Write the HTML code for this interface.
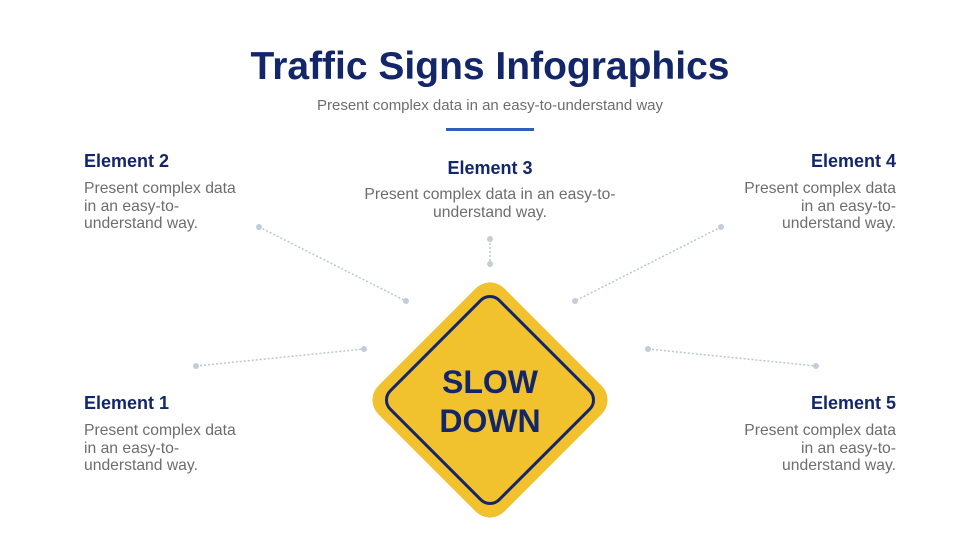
<!DOCTYPE html>
<html><head><style>
body{margin:0;width:980px;height:551px;background:#fff;position:relative;overflow:hidden;font-family:"Liberation Sans",sans-serif}
.t{position:absolute;white-space:nowrap}
h1{position:absolute;left:0;width:980px;text-align:center;top:45px;margin:0;font-size:39px;color:#13266a;font-weight:bold}
.h{font-weight:bold;font-size:18px;color:#13266a}
.p{font-size:15.7px;color:#6d6d6d;line-height:17.5px}
</style></head><body>
<h1>Traffic Signs Infographics</h1>
<div class="t" style="left:0;width:980px;text-align:center;top:97px;font-size:15px;color:#6d6d6d">Present complex data in an easy-to-understand way</div>
<div style="position:absolute;left:446px;top:128px;width:88px;height:3px;background:#2f5fb8"></div>
<svg width="980" height="551" style="position:absolute;left:0;top:0">
<g stroke="#b9c6d3" stroke-width="1.5" stroke-dasharray="2 2" fill="none">
<line x1="259" y1="227" x2="406" y2="301"/><line x1="196" y1="366" x2="364" y2="349"/>
<line x1="490" y1="239" x2="490" y2="264"/><line x1="721" y1="227" x2="575" y2="301"/>
<line x1="648" y1="349" x2="816" y2="366"/></g>
<g fill="#c2cdd8">
<circle cx="259" cy="227" r="3"/><circle cx="406" cy="301" r="3"/><circle cx="196" cy="366" r="3"/><circle cx="364" cy="349" r="3"/>
<circle cx="490" cy="239" r="3"/><circle cx="490" cy="264" r="3"/><circle cx="721" cy="227" r="3"/><circle cx="575" cy="301" r="3"/>
<circle cx="648" cy="349" r="3"/><circle cx="816" cy="366" r="3"/></g>
<g transform="translate(490,400) rotate(45)">
<rect x="-89" y="-89" width="178" height="178" rx="20" fill="#f2c12e"/>
<rect x="-77" y="-77" width="154" height="154" rx="13" fill="none" stroke="#13266a" stroke-width="3"/>
</g>
<text x="490" y="393" text-anchor="middle" font-family="Liberation Sans" font-weight="bold" font-size="32" fill="#13266a">SLOW</text>
<text x="490" y="432" text-anchor="middle" font-family="Liberation Sans" font-weight="bold" font-size="32" fill="#13266a">DOWN</text>
</svg>
<div class="t h" style="left:84px;top:151px">Element 2</div>
<div class="t p" style="left:84px;top:180px">Present complex data<br>in an easy-to-<br>understand way.</div>
<div class="t h" style="left:84px;top:393px">Element 1</div>
<div class="t p" style="left:84px;top:422px">Present complex data<br>in an easy-to-<br>understand way.</div>
<div class="t h" style="left:0;width:980px;text-align:center;top:158px">Element 3</div>
<div class="t p" style="left:0;width:980px;text-align:center;top:186px">Present complex data in an easy-to-<br>understand way.</div>
<div class="t h" style="right:84px;top:151px;text-align:right">Element 4</div>
<div class="t p" style="right:84px;top:180px;text-align:right">Present complex data<br>in an easy-to-<br>understand way.</div>
<div class="t h" style="right:84px;top:393px;text-align:right">Element 5</div>
<div class="t p" style="right:84px;top:422px;text-align:right">Present complex data<br>in an easy-to-<br>understand way.</div>
</body></html>
